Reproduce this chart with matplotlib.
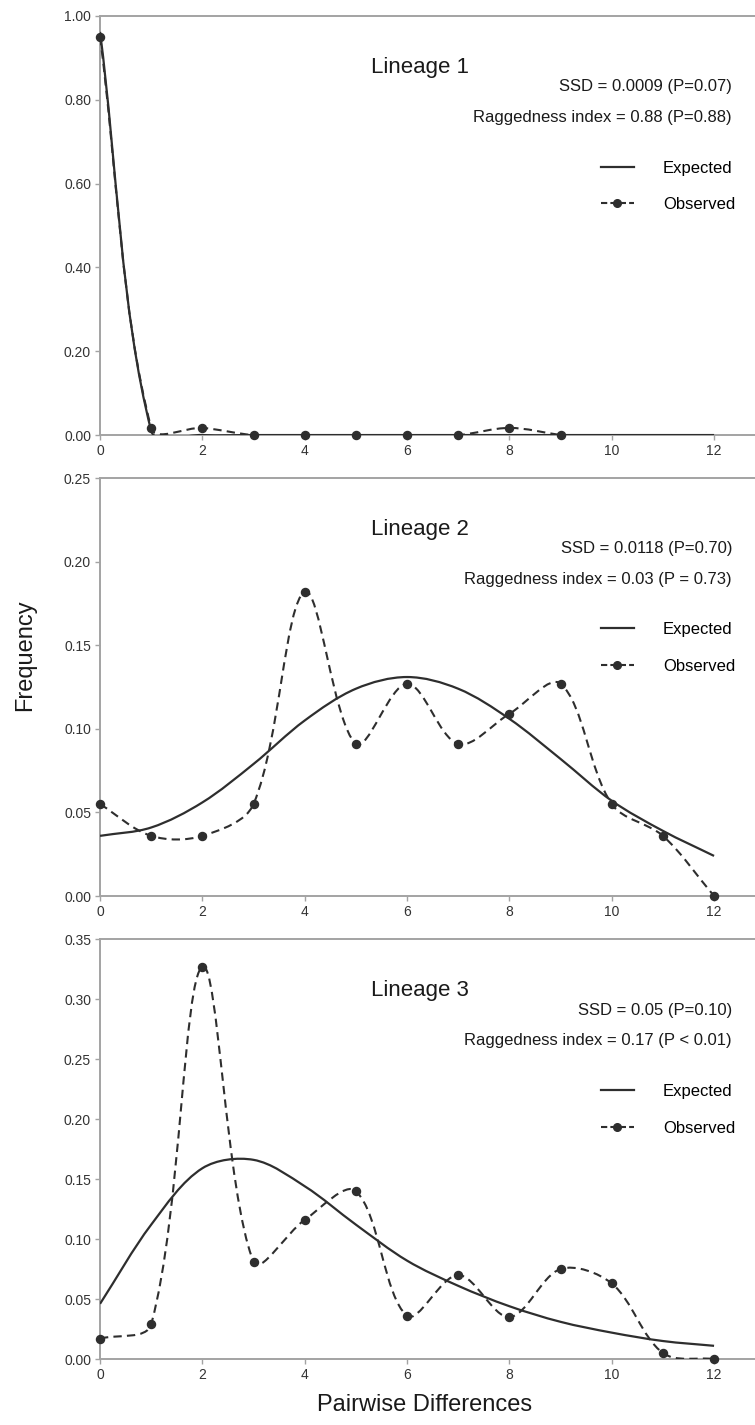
import numpy as np
import matplotlib
matplotlib.use("Agg")
import matplotlib.pyplot as plt
from matplotlib.path import Path
from matplotlib.patches import PathPatch
from matplotlib.lines import Line2D
from matplotlib.ticker import FormatStrFormatter

plt.rcParams['font.family'] = ['Liberation Sans', 'DejaVu Sans']

# --- data ---
pairwise = list(range(13))

obs_1 = [0.950, 0.017, 0.017, 0.0, 0.0, 0.0, 0.0, 0.0, 0.017, 0.0]
exp_1 = [0.962, 0.010, 0.0, 0.0, 0.0, 0.0, 0.0, 0.0, 0.0, 0.0, 0.0, 0.0, 0.0]

obs_2 = [0.055, 0.036, 0.036, 0.055, 0.182, 0.091, 0.127, 0.091, 0.109, 0.127, 0.055, 0.036, 0.0]
exp_2 = [0.036, 0.041, 0.056, 0.079, 0.105, 0.124, 0.131, 0.124, 0.106, 0.082, 0.057, 0.039, 0.024]

obs_3 = [0.017, 0.029, 0.327, 0.081, 0.116, 0.140, 0.036, 0.070, 0.035, 0.075, 0.063, 0.005, 0.0]
exp_3 = [0.046, 0.112, 0.159, 0.166, 0.144, 0.112, 0.082, 0.061, 0.044, 0.031, 0.022, 0.015, 0.011]

titles = ['Lineage 1', 'Lineage 2', 'Lineage 3']
ssd_text = ['SSD = 0.0009 (P=0.07)', 'SSD = 0.0118 (P=0.70)', 'SSD = 0.05 (P=0.10)']
rag_text = ['Raggedness index = 0.88 (P=0.88)', 'Raggedness index = 0.03 (P = 0.73)',
            'Raggedness index = 0.17 (P < 0.01)']
y_max = [1.0, 0.25, 0.35]
y_step = [0.2, 0.05, 0.05]

observed = [obs_1, obs_2, obs_3]
expected = [exp_1, exp_2, exp_3]

DARK = '#2e2e2e'
AXIS = '#a3a3a3'


def smooth_path(ax, x, y):
    """Excel-like smoothed line: cubic Bezier through every point, tangents
    weighted by the on-screen lengths of the neighbouring segments."""
    pts = np.column_stack([x, y]).astype(float)
    scr = ax.transData.transform(pts)
    n = len(pts)
    seg = np.hypot(*np.diff(scr, axis=0).T)
    out_c, in_c = [], []
    for i in range(n):
        prev_i = max(i - 1, 0)
        next_i = min(i + 1, n - 1)
        tang = pts[next_i] - pts[prev_i]
        d_prev = seg[i - 1] if i > 0 else 0.0
        d_next = seg[i] if i < n - 1 else 0.0
        tot = d_prev + d_next
        if tot == 0:
            tot = 1.0
        out_c.append(pts[i] + tang * d_next / tot / 3.0)
        in_c.append(pts[i] - tang * d_prev / tot / 3.0)
    verts = [tuple(pts[0])]
    codes = [Path.MOVETO]
    for i in range(n - 1):
        verts += [tuple(out_c[i]), tuple(in_c[i + 1]), tuple(pts[i + 1])]
        codes += [Path.CURVE4] * 3
    return Path(verts, codes)


fig = plt.figure(figsize=(7.55, 14.25), dpi=100)

# axes boxes in figure fractions (left, bottom, width, height)
boxes = [(0.1325, 0.6947, 0.8675, 0.2941),
         (0.1325, 0.3712, 0.8675, 0.2933),
         (0.1325, 0.0463, 0.8675, 0.2947)]

for k in range(3):
    ax = fig.add_axes(boxes[k])
    obs = observed[k]
    exp = expected[k]
    xo = pairwise[:len(obs)]
    xe = pairwise[:len(exp)]

    ax.set_xlim(0, 12.8)
    ax.set_ylim(0, y_max[k])

    ax.add_patch(PathPatch(smooth_path(ax, xe, exp), fill=False, edgecolor=DARK,
                           linewidth=1.6, linestyle='-', zorder=3))
    ax.add_patch(PathPatch(smooth_path(ax, xo, obs), fill=False, edgecolor=DARK,
                           linewidth=1.5, linestyle=(0, (4, 2.5)), zorder=3))
    ax.plot(xo, obs, linestyle='none', marker='o', markersize=5.8,
            color=DARK, zorder=4, clip_on=False)

    ax.set_xticks(range(0, 13, 2))
    ax.set_yticks(np.arange(0, y_max[k] + 1e-9, y_step[k]))
    ax.yaxis.set_major_formatter(FormatStrFormatter('%.2f'))

    for side in ['left', 'top', 'bottom']:
        ax.spines[side].set_color(AXIS)
        ax.spines[side].set_linewidth(1.4)
    ax.spines['right'].set_visible(False)
    ax.tick_params(axis='both', colors=AXIS, labelcolor='#333333', labelsize=10,
                   length=3.5, width=1.0, pad=3)

    ax.text(0.488, 0.878, titles[k], transform=ax.transAxes, ha='center',
            va='center', fontsize=16, color='#1a1a1a')
    ax.text(0.965, 0.831, ssd_text[k], transform=ax.transAxes, ha='right',
            va='center', fontsize=12, color='#1a1a1a')
    ax.text(0.965, 0.758, rag_text[k], transform=ax.transAxes, ha='right',
            va='center', fontsize=12, color='#1a1a1a')

    handles = [Line2D([], [], color=DARK, linewidth=1.6),
               Line2D([], [], color=DARK, linewidth=1.5, linestyle=(0, (3, 1.5)),
                      marker='o', markersize=5.5)]
    ax.legend(handles, ['Expected', 'Observed'], loc='upper right',
              bbox_to_anchor=(0.970, 0.655), frameon=False, fontsize=12,
              handlelength=2.0, handletextpad=1.75, labelspacing=1.3,
              borderpad=0, borderaxespad=0, numpoints=1)

fig.text(25 / 755, 1 - 655 / 1425, 'Frequency', rotation=90, ha='center',
         va='center', fontsize=17, color='#1a1a1a')
fig.text(425 / 755, 1 - 1405 / 1425, 'Pairwise Differences', ha='center',
         va='center', fontsize=17, color='#1a1a1a')

fig.savefig('out.png', dpi=100)
